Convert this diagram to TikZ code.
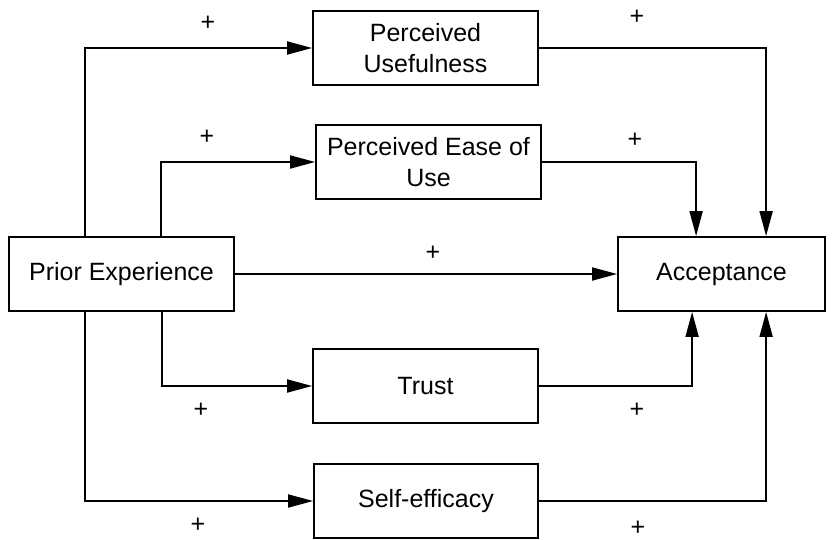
\documentclass[tikz,border=0pt]{standalone}
\usepackage{fontspec}
\setmainfont{Liberation Sans}
\usetikzlibrary{arrows.meta,calc}
\begin{document}
\begin{tikzpicture}[x=1pt,y=-1pt,
  box/.style={draw=black,line width=1.8pt,minimum height=74pt,inner sep=0pt,align=center,font=\fontsize{25}{31}\selectfont},
  arr/.style={draw=black,line width=1.8pt,-{Triangle[length=25pt,width=13pt]}},
  lab/.style={inner sep=0pt,font=\fontsize{25}{31}\selectfont}]
\useasboundingbox (0,0) rectangle (833,540);
\fill[white] (0,0) rectangle (833,540);
\node[box,minimum width=225pt] (pu) at (425.5,48) {Perceived\\Usefulness};
\node[box,minimum width=225pt] (peou) at (428.5,162) {Perceived Ease of\\Use};
\node[box,minimum width=225pt] (pe) at (121.5,274) {Prior Experience};
\node[box,minimum width=207pt] (acc) at (721.5,274) {Acceptance};
\node[box,minimum width=225pt] (tr) at (425.5,386) {Trust};
\node[box,minimum width=224pt] (se) at (426,501) {Self-efficacy};
% from Prior Experience
\draw[arr] ($(pe.north west)+(77,0)$) |- (pu.west);
\draw[arr] ($(pe.north west)+(153,0)$) |- (peou.west);
\draw[arr] (pe.east) -- (acc.west);
\draw[arr] ($(pe.south west)+(154,0)$) |- (tr.west);
\draw[arr] ($(pe.south west)+(77,0)$) |- (se.west);
% to Acceptance
\draw[arr] (pu.east) -| ($(acc.north west)+(149,0)$);
\draw[arr] (peou.east) -| ($(acc.north west)+(79,0)$);
\draw[arr] (tr.east) -| ($(acc.south west)+(75,0)$);
\draw[arr] (se.east) -| ($(acc.south west)+(149,0)$);
% labels
\node[lab] (l1) at (208,23) {+};
\node[lab] (l2) at (207,137) {+};
\node[lab] (l3) at (637,17) {+};
\node[lab] (l4) at (635,140) {+};
\node[lab] (l5) at (433,253) {+};
\node[lab] (l6) at (201,410) {+};
\node[lab] (l7) at (198,525) {+};
\node[lab] (l8) at (637,410) {+};
\node[lab] (l9) at (638,528) {+};
\end{tikzpicture}
\end{document}
